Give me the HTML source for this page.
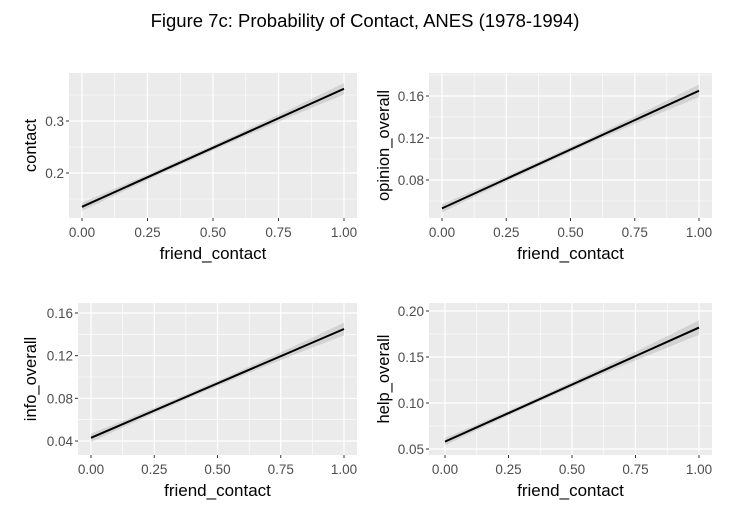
<!DOCTYPE html>
<html><head><meta charset="utf-8"><style>
body{margin:0;background:#fff;font-family:"Liberation Sans",Arial,sans-serif}
svg text{font-family:"Liberation Sans",Arial,sans-serif}
</style></head><body>
<svg id="c" width="729" height="507">
<text x="365" y="27" text-anchor="middle" font-size="18.5" fill="#000">Figure 7c: Probability of Contact, ANES (1978-1994)</text>
</svg>
<script>
const xTicks=[0,0.25,0.5,0.75,1];
const xTickLabels=["0.00","0.25","0.50","0.75","1.00"];
const panelNames=["contact","opinion_overall","info_overall","help_overall"];
const yTicksContact=[0.2,0.3];
const yTicksOpinion=[0.08,0.12,0.16];
const yTicksInfo=[0.04,0.08,0.12,0.16];
const yTicksHelp=[0.05,0.10,0.15,0.20];
const yLabelsContact=["0.2","0.3"];
const yLabelsOpinion=["0.08","0.12","0.16"];
const yLabelsInfo=["0.04","0.08","0.12","0.16"];
const yLabelsHelp=["0.05","0.10","0.15","0.20"];
// fitted values at x = 0, 0.5, 1
const fitContact=[0.135,0.2485,0.362];
const fitOpinion=[0.053,0.109,0.165];
const fitInfo=[0.043,0.094,0.145];
const fitHelp=[0.058,0.120,0.182];
// half-width of confidence band at x = 0, 0.5, 1
const seContact=[0.008,0.005,0.011];
const seOpinion=[0.004,0.0025,0.006];
const seInfo=[0.004,0.0025,0.006];
const seHelp=[0.004,0.003,0.008];

const NS="http://www.w3.org/2000/svg";
const svg=document.getElementById('c');
function mk(t,a,p){const e=document.createElementNS(NS,t);for(const k in a)e.setAttribute(k,a[k]);(p||svg).appendChild(e);return e;}

const panels=[
 {l:69,r:357,t:73,b:218,x0:82,x1:344,yv:[0.2,0.3],yp:[173,121],ticks:yTicksContact,labels:yLabelsContact,fit:fitContact,se:seContact,name:panelNames[0]},
 {l:429,r:712,t:73,b:218,x0:442,x1:699,yv:[0.08,0.16],yp:[180,96],ticks:yTicksOpinion,labels:yLabelsOpinion,fit:fitOpinion,se:seOpinion,name:panelNames[1]},
 {l:78,r:357,t:303,b:455,x0:91,x1:344,yv:[0.04,0.16],yp:[441,313],ticks:yTicksInfo,labels:yLabelsInfo,fit:fitInfo,se:seInfo,name:panelNames[2]},
 {l:429,r:712,t:303,b:455,x0:445,x1:699,yv:[0.05,0.20],yp:[449,311],ticks:yTicksHelp,labels:yLabelsHelp,fit:fitHelp,se:seHelp,name:panelNames[3]}
];
panels.forEach((p,i)=>{
 const g=mk('g',{});
 
 
 const X=v=>p.x0+(p.x1-p.x0)*v;
 const Y=v=>p.yp[0]+(p.yp[1]-p.yp[0])*(v-p.yv[0])/(p.yv[1]-p.yv[0]);
 const bg=mk('rect',{x:p.l,y:p.t,width:p.r-p.l,height:p.b-p.t,fill:'#ebebeb'},g);
 
 
 const step=p.ticks[1]-p.ticks[0];
 const minorY=[p.ticks[0]-step/2,...p.ticks.map(t=>t+step/2)];
 minorY.forEach(v=>{const y=Y(v);if(y>p.t&&y<p.b)mk('line',{x1:p.l,x2:p.r,y1:y,y2:y,stroke:'#fff','stroke-width':0.6},g);});
 [0.125,0.375,0.625,0.875].forEach(v=>{const x=X(v);mk('line',{x1:x,x2:x,y1:p.t,y2:p.b,stroke:'#fff','stroke-width':0.6},g);});
 p.ticks.forEach((v,j)=>{const y=Y(v);
  mk('line',{x1:p.l,x2:p.r,y1:y,y2:y,stroke:'#fff','stroke-width':1.2},g);
  mk('line',{x1:p.l-3,x2:p.l,y1:y,y2:y,stroke:'#333','stroke-width':1},g);
  const t=mk('text',{x:p.l-5,y:y+5,'text-anchor':'end','font-size':13.5,fill:'#4d4d4d'},g);t.textContent=p.labels[j];
  
  
 });
 xTicks.forEach((v,j)=>{const x=X(v);
  mk('line',{x1:x,x2:x,y1:p.t,y2:p.b,stroke:'#fff','stroke-width':1.2},g);
  mk('line',{x1:x,x2:x,y1:p.b,y2:p.b+3,stroke:'#333','stroke-width':1},g);
  const t=mk('text',{x:x,y:p.b+19,'text-anchor':'middle','font-size':13.5,fill:'#4d4d4d'},g);t.textContent=xTickLabels[j];
  
  
 });
 const q=(a,v)=>{const [f0,f1,f2]=a;return f0*(1-v)*(1-2*v)+f1*4*v*(1-v)+f2*v*(2*v-1);};
 let up=[],lo=[];
 for(let k=0;k<=20;k++){const v=k/20;const m=q(p.fit,v),s=q(p.se,v);up.push(X(v)+','+Y(m+s));lo.unshift(X(v)+','+Y(m-s));}
 const rb=mk('polygon',{points:up.concat(lo).join(' '),fill:'#999','fill-opacity':0.3},g);
 
 
 const ln=mk('line',{x1:X(0),y1:Y(p.fit[0]),x2:X(1),y2:Y(p.fit[2]),stroke:'#000','stroke-width':2},g);
 
 
 const xt=mk('text',{x:(p.l+p.r)/2,y:p.b+41,'text-anchor':'middle','font-size':17,fill:'#000'},g);xt.textContent='friend_contact';
 
 
 const cy=(p.t+p.b)/2, lx=(i%2==0?36:389);
 const yt=mk('text',{x:lx,y:cy,'text-anchor':'middle','font-size':16.5,fill:'#000',transform:'rotate(-90 '+lx+' '+cy+')'},g);yt.textContent=p.name;
 
 
});
</script>
</body></html>
